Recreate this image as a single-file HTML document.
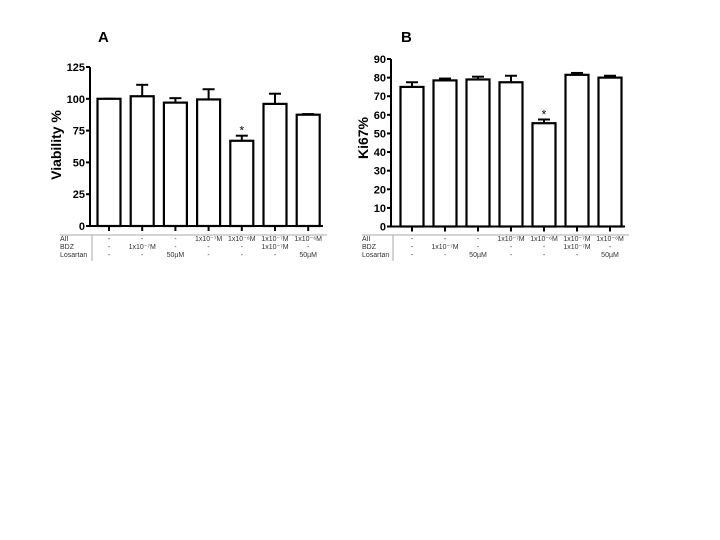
<!DOCTYPE html>
<html><head><meta charset="utf-8"><style>
html,body{margin:0;padding:0;background:#fff;width:720px;height:540px;overflow:hidden}
svg{display:block;font-family:"Liberation Sans",Arial,sans-serif}
</style></head><body>
<svg id="chart" width="720" height="540" viewBox="0 0 720 540"></svg>
<script>
const categories = ["1","2","3","4","5","6","7"];
const viabilityValues = [100, 102, 97, 99.5, 67, 96, 87.5];
const viabilityErrors = [0, 9, 3.5, 8, 4, 8, 0.5];
const viabilityTicks = [0, 25, 50, 75, 100, 125];
const ki67Values = [75, 78.5, 79, 77.5, 55.5, 81.5, 80];
const ki67Errors = [2.5, 1, 1.5, 3.5, 2, 1, 1];
const ki67Ticks = [0,10,20,30,40,50,60,70,80,90];
const rowAII = ["-","-","-","1x10\u207B\u2077M","1x10\u207B\u2076M","1x10\u207B\u2077M","1x10\u207B\u2076M"];
const rowBDZ = ["-","1x10\u207B\u2077M","-","-","-","1x10\u207B\u2077M","-"];
const rowLos = ["-","-","50\u00B5M","-","-","-","50\u00B5M"];
const sigIndex = [4];

const svg = document.getElementById('chart');
const NS = 'http://www.w3.org/2000/svg';
function mk(tag, attrs, parent){const e=document.createElementNS(NS,tag);for(const k in attrs)e.setAttribute(k,attrs[k]);(parent||svg).appendChild(e);return e;}

function panel(cfg){
  const g = mk('g',{});
  
  
  const y = v => cfg.y0 - (v - cfg.min)/(cfg.max-cfg.min)*(cfg.y0-cfg.y1);
  const x = i => cfg.cx0 + i*cfg.step;
  const t = mk('text',{x:cfg.titleX,y:cfg.titleY,'font-size':15,'font-weight':'bold'},g); t.textContent=cfg.title;
  
  
  const yt = mk('text',{x:0,y:0,'font-size':14,'font-weight':'bold','text-anchor':'middle',transform:`translate(${cfg.ytX},${cfg.ytY}) rotate(-90)`},g);
  yt.textContent = cfg.yTitle;
  
  
  const ya = mk('line',{x1:cfg.ax,x2:cfg.ax,y1:y(cfg.max),y2:cfg.y0,stroke:'#000','stroke-width':2},g);
  
  
  cfg.ticks.forEach(v=>{
    mk('line',{x1:cfg.ax-4,x2:cfg.ax,y1:y(v),y2:y(v),stroke:'#000','stroke-width':2},g);
    const tl = mk('text',{x:cfg.ax-5,y:y(v)+4,'font-size':11,'font-weight':'bold','text-anchor':'end'},g);
    tl.textContent = v;
    
    
  });
  const xa = mk('line',{x1:cfg.ax-1,x2:cfg.xEnd,y1:cfg.y0,y2:cfg.y0,stroke:'#000','stroke-width':2},g);
  
  
  cfg.values.forEach((v,i)=>{
    const cx = x(i), top = y(v);
    const et = y(v + cfg.errs[i]);
    mk('line',{x1:cx,x2:cx,y1:top,y2:et,stroke:'#000','stroke-width':2},g);
    mk('line',{x1:cx-6,x2:cx+6,y1:et,y2:et,stroke:'#000','stroke-width':2},g);
    const b = mk('rect',{x:cx-cfg.bw/2,y:top,width:cfg.bw,height:cfg.y0-top,fill:'#fff',stroke:'#000','stroke-width':2.2},g);
    
    
    mk('line',{x1:cx,x2:cx,y1:cfg.y0,y2:cfg.y0+5,stroke:'#000','stroke-width':2},g);
    if (sigIndex.includes(i)) {
      const s = mk('text',{x:cx,y:et-1,'font-size':12,'text-anchor':'middle'},g);
      s.textContent='*';
      
      
    }
  });
  mk('line',{x1:cfg.tblX,x2:cfg.xEnd+4,y1:235,y2:235,stroke:'#aaa','stroke-width':1},g);
  mk('line',{x1:cfg.ax+2,x2:cfg.ax+2,y1:235,y2:261,stroke:'#aaa','stroke-width':1},g);
  const rows=[["AII",rowAII,241],["BDZ",rowBDZ,249],["Losartan",rowLos,257]];
  rows.forEach(r=>{
    const l = mk('text',{x:cfg.tblX,y:r[2],'font-size':7,fill:'#333'},g); l.textContent=r[0];
    
    
    r[1].forEach((s,i)=>{
      const c = mk('text',{x:x(i),y:r[2],'font-size':7,'text-anchor':'middle',fill:'#333'},g); c.textContent=s;
      
      
    });
  });
}

panel({name:'panel-a-viability',title:'A',titleX:98,titleY:42,yTitle:'Viability %',ytX:61,ytY:145,
  values:viabilityValues,errs:viabilityErrors,ticks:viabilityTicks,min:0,max:125,y0:226,y1:67,
  ax:90,cx0:109,step:33.2,bw:23,xEnd:323,tblX:60});
panel({name:'panel-b-ki67',title:'B',titleX:401,titleY:42,yTitle:'Ki67%',ytX:368,ytY:138,
  values:ki67Values,errs:ki67Errors,ticks:ki67Ticks,min:0,max:90,y0:226.5,y1:59,
  ax:391,cx0:412,step:33,bw:23,xEnd:625,tblX:362});
</script>
</body></html>
